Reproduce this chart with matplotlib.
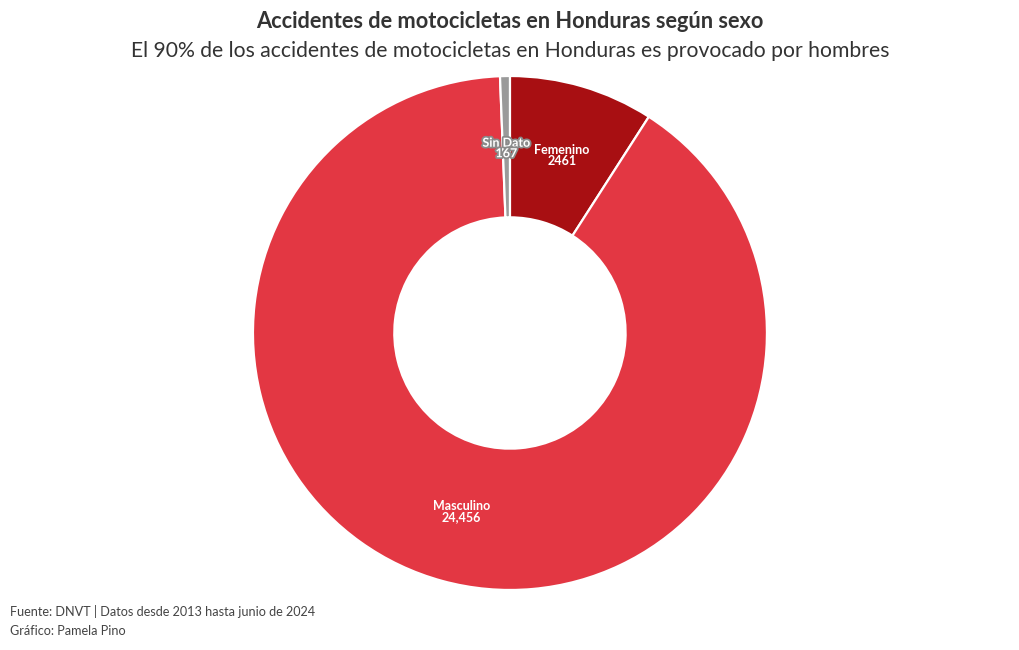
import numpy as np
import matplotlib
matplotlib.use("Agg")
import matplotlib.pyplot as plt
import matplotlib.patheffects as pe

plt.rcParams['font.family'] = ['Lato', 'DejaVu Sans']

categories = ["Femenino", "Masculino", "Sin Dato"]
values = [2461, 24456, 167]
value_labels = ["2461", "24,456", "167"]
colors = ["#A80F12", "#E33743", "#9A9A9A"]

fig = plt.figure(figsize=(10.2, 6.5), dpi=100)
ax = fig.add_axes([0.248, 0.0923, 0.5039, 0.7908])
wedges, _ = ax.pie(values, colors=colors, startangle=90, counterclock=False,
                   radius=1.0, wedgeprops=dict(width=0.55, edgecolor="white", linewidth=1.6))
ax.set_xlim(-1, 1)
ax.set_ylim(-1, 1)
ax.set_aspect("equal")
ax.axis("off")

for w, cat, lab in zip(wedges, categories, value_labels):
    mid = np.deg2rad((w.theta1 + w.theta2) / 2)
    r = 0.72
    x, y = r * np.cos(mid), r * np.sin(mid)
    kw = dict(ha="center", va="center", color="white", fontsize=9, fontweight="bold",
              linespacing=0.85)
    t = ax.text(x, y, f"{cat}\n{lab}", **kw)
    if cat == "Sin Dato":
        t.set_path_effects([pe.withStroke(linewidth=2.5, foreground="#8A8A8A")])

fig.text(0.5, 1 - 22 / 650, "Accidentes de motocicletas en Honduras según sexo",
         ha="center", va="center", fontsize=15.7, fontweight="bold", color="#333333")
fig.text(0.5, 1 - 51 / 650, "El 90% de los accidentes de motocicletas en Honduras es provocado por hombres",
         ha="center", va="center", fontsize=15.2, color="#333333")
fig.text(10 / 1020, 1 - 612 / 650, "Fuente: DNVT | Datos desde 2013 hasta junio de 2024",
         ha="left", va="center", fontsize=9.1, color="#444444")
fig.text(10 / 1020, 1 - 631 / 650, "Gráfico: Pamela Pino",
         ha="left", va="center", fontsize=9.1, color="#444444")

fig.savefig("out.png", dpi=100, facecolor="white")
